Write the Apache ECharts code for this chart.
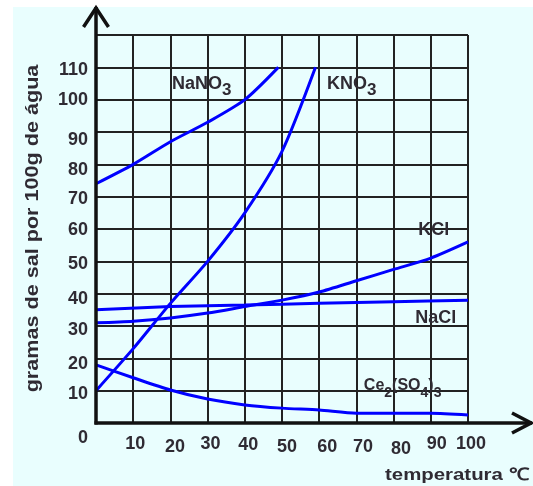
<!DOCTYPE html>
<html><head><meta charset="utf-8">
<script src="https://cdn.jsdelivr.net/npm/echarts@6.0.0/dist/echarts.min.js"></script>
<style>
html,body{margin:0;padding:0;background:#fff;}
#wrap{position:relative;width:533px;height:486px;overflow:hidden;}
#bg{position:absolute;left:13px;top:7px;right:0;bottom:0;background:#E9FEFE;}
#chart{position:absolute;left:0;top:0;width:533px;height:486px;}
</style></head><body>
<div id="wrap"><div id="bg"></div><div id="chart"></div></div>
<script>
// ---- data ----
const nano3Temp = [0, 10, 20, 30, 40, 49];
const nano3Sol  = [74, 80, 87, 93, 100, 110];
const kno3Temp  = [0, 10, 20, 30, 40, 50, 59];
const kno3Sol   = [10, 23, 37, 50, 65, 84, 110];
const kclTemp   = [0, 10, 20, 30, 40, 50, 60, 70, 80, 90, 100];
const kclSol    = [31, 31.5, 32.5, 34, 36, 38, 40.5, 44, 47.5, 51, 56];
const naclTemp  = [0, 20, 40, 60, 80, 100];
const naclSol   = [35, 36, 36.5, 37, 37.5, 38];
const ceTemp    = [0, 10, 20, 30, 40, 50, 60, 70, 80, 90, 100];
const ceSol     = [18, 14, 10.2, 7.4, 5.6, 4.6, 4, 3, 3, 3, 2.5];

const xTicks = [0, 10, 20, 30, 40, 50, 60, 70, 80, 90, 100];
const yTicks = [10, 20, 30, 40, 50, 60, 70, 80, 90, 100, 110];

const yTitle = 'gramas de sal por 100g de água';
const xTitle = 'temperatura ℃';

// label text parts: [text, isSubscript]
const nano3Name = [['NaNO', 0], ['3', 1]];
const kno3Name  = [['KNO', 0], ['3', 1]];
const kclName   = [['KCl', 0]];
const naclName  = [['NaCl', 0]];
const ceName    = [['Ce', 0], ['2', 1], ['(SO', 0], ['4', 1], [')', 0], ['3', 1]];

// ---- style / layout ----
const FONT = '"Liberation Sans", Arial, sans-serif';
const TXT = '#2f2b33';
const LINE = '#0000ff';
const xLabelNudge = {0:[-13,0],10:[2,6.5],20:[4.5,9],30:[3,6],40:[3.5,7],50:[5,9],60:[8,9],70:[6.5,9],80:[7.5,11],90:[6,6],100:[3,6.5]};
const yLabelNudge = {10:3.5,20:5.5,30:4.5,40:5,50:2.5,60:1,70:2.5,80:6,90:8,100:0,110:2.5};
const labelLayout = [
  {parts: nano3Name, at: [20.4, 104.9], size: 18, sub: 17, subDy: 6},
  {parts: kno3Name,  at: [62.1, 104.9], size: 18, sub: 17, subDy: 6},
  {parts: kclName,   at: [86.6, 59.7],  size: 18},
  {parts: naclName,  at: [85.8, 32.5],  size: 18},
  {parts: ceName,    at: [72.0, 11.6],  size: 16, sub: 14, subDy: 8}
];

function zip(a, b) { return a.map((v, i) => [v, b[i]]); }

const xRich = {}, yRich = {};
xTicks.forEach(v => {
  const [dx, dy] = xLabelNudge[v];
  xRich['x' + v] = {fontSize: 18, fontWeight: 'bold', fontFamily: FONT, color: TXT,
    padding: [dy, dx < 0 ? -2 * dx : 0, 0, dx > 0 ? 2 * dx : 0]};
});
yTicks.forEach(v => {
  const dy = yLabelNudge[v];
  yRich['y' + v] = {fontSize: 18, fontWeight: 'bold', fontFamily: FONT, color: TXT,
    padding: [2 * dy, 0, 0, 0]};
});

function lineSeries(name, t, s) {
  return {name, type: 'line', data: zip(t, s), showSymbol: false, smooth: 0.25,
    lineStyle: {color: LINE, width: 3}, silent: true, z: 3};
}

const chart = echarts.init(document.getElementById('chart'), null, {renderer: 'canvas'});
chart.setOption({
  backgroundColor: 'transparent',
  animation: false,
  grid: {left: 96, right: 65, top: 35, bottom: 63, containLabel: false, outerBoundsMode: 'none'},
  xAxis: {
    type: 'value', min: 0, max: 100, interval: 10,
    axisLine: {show: false}, axisTick: {show: false},
    splitLine: {show: true, showMinLine: true, showMaxLine: true, lineStyle: {color: '#222', width: 2}},
    axisLabel: {margin: 6, hideOverlap: false, showMinLabel: true, showMaxLabel: true,
      formatter: v => xTicks.includes(v) ? '{x' + v + '|' + v + '}' : '', rich: xRich}
  },
  yAxis: {
    type: 'value', min: 0, max: 120, interval: 10,
    axisLine: {show: false}, axisTick: {show: false},
    splitLine: {show: true, showMinLine: true, showMaxLine: true, lineStyle: {color: '#222', width: 2}},
    axisLabel: {margin: 8, hideOverlap: false,
      formatter: v => yTicks.includes(v) ? '{y' + v + '|' + v + '}' : '', rich: yRich}
  },
  series: [
    lineSeries('NaNO3', nano3Temp, nano3Sol),
    lineSeries('KNO3', kno3Temp, kno3Sol),
    lineSeries('KCl', kclTemp, kclSol),
    lineSeries('NaCl', naclTemp, naclSol),
    lineSeries('Ce2(SO4)3', ceTemp, ceSol)
  ]
});

// ---- overlay: axes with arrows, titles, curve names ----
const mctx = document.createElement('canvas').getContext('2d');
function measure(t, size) { mctx.font = 'bold ' + size + 'px ' + FONT; return mctx.measureText(t).width; }

const toPx = p => chart.convertToPixel({gridIndex: 0}, p);
const origin = toPx([0, 0]);
const gridTopPx = toPx([0, 120]);
const W = chart.getWidth();
const yTip = gridTopPx[1] - 28;
const xTip = W - 1;
const graphics = [];
const axisStyle = {stroke: '#111', lineWidth: 3.5, fill: null, lineJoin: 'miter'};
graphics.push({type: 'polyline', z: 10, shape: {points: [[origin[0], origin[1] + 1.5], [origin[0], yTip]]}, style: axisStyle});
graphics.push({type: 'polyline', z: 10, shape: {points: [[origin[0] - 1.5, origin[1]], [xTip, origin[1]]]}, style: axisStyle});
graphics.push({type: 'polyline', z: 10, shape: {points: [[origin[0] - 12.5, yTip + 20], [origin[0], yTip + 1], [origin[0] + 12.5, yTip + 20]]}, style: axisStyle});
graphics.push({type: 'polyline', z: 10, shape: {points: [[xTip - 20, origin[1] - 10], [xTip - 1, origin[1]], [xTip - 20, origin[1] + 10]]}, style: axisStyle});

graphics.push({type: 'text', z: 10, x: 33, y: 228.5, rotation: Math.PI / 2, scaleX: 1.2,
  style: {text: yTitle, font: 'bold 18px ' + FONT, fill: TXT, textAlign: 'center', textVerticalAlign: 'middle'}});
graphics.push({type: 'text', z: 10, x: 385, y: 475, scaleX: 1.2,
  style: {text: xTitle, font: 'bold 17px ' + FONT, fill: TXT, textAlign: 'left', textVerticalAlign: 'middle'}});

labelLayout.forEach(L => {
  const p = toPx(L.at);
  let x = p[0];
  L.parts.forEach(([t, isSub]) => {
    const size = isSub ? L.sub : L.size;
    graphics.push({type: 'text', z: 10, x: x, y: p[1] + (isSub ? L.subDy : 0),
      style: {text: t, font: 'bold ' + size + 'px ' + FONT, fill: TXT, textAlign: 'left', textVerticalAlign: 'middle'}});
    x += measure(t, size);
  });
});

chart.setOption({graphic: graphics});
</script>
</body></html>
